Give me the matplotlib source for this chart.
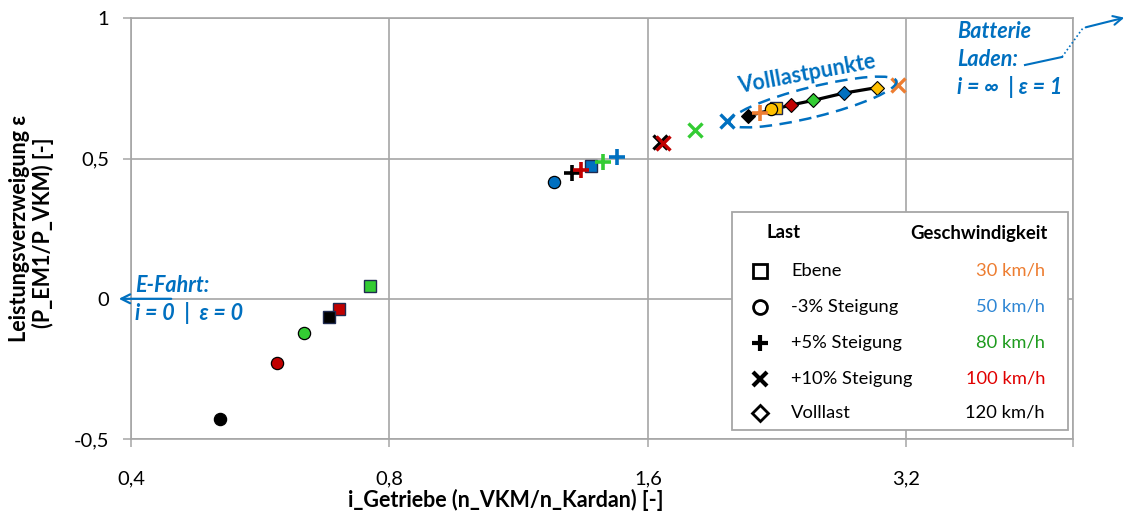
import numpy as np
import matplotlib.pyplot as plt
from matplotlib.lines import Line2D
from matplotlib.patches import Ellipse, Rectangle
from matplotlib.transforms import IdentityTransform
from matplotlib.ticker import NullLocator

plt.rcParams['font.family'] = ['Lato', 'DejaVu Sans']

W, H = 1129, 513

# Geschwindigkeiten (Reihenfolge der Punkte in jeder Reihe)
geschwindigkeit = ['30 km/h', '50 km/h', '80 km/h', '100 km/h', '120 km/h']
lastfaelle = ['Ebene', '-3% Steigung', '+5% Steigung', '+10% Steigung', 'Volllast']

# Werte: i_Getriebe und Leistungsverzweigung
i_ebene = [2.254, 1.375, 0.760, 0.699, 0.680]
eps_ebene = [0.680, 0.474, 0.046, -0.037, -0.066]
i_minus3 = [2.228, 1.243, 0.637, 0.591, 0.508]
eps_minus3 = [0.675, 0.417, -0.123, -0.228, -0.429]
i_plus5 = [2.159, 1.474, 1.419, 1.339, 1.307]
eps_plus5 = [0.662, 0.507, 0.488, 0.460, 0.450]
i_plus10 = [3.128, 1.978, 1.814, 1.666, 1.652]
eps_plus10 = [0.763, 0.633, 0.600, 0.556, 0.560]
i_volllast = [2.957, 2.704, 2.490, 2.350, 2.092]
eps_volllast = [0.753, 0.733, 0.707, 0.691, 0.652]

# Farben je Geschwindigkeit
farben_flaeche = ['#FFC000', '#0070C0', '#33CC33', '#C00000', 'black']
farben_linie = ['#ED7D31', '#0070C0', '#33CC33', '#C00000', 'black']
farben_text = ['#ED7D31', '#2E86D4', '#1E9B1E', '#E00000', 'black']

x_ticks = [0.4, 0.8, 1.6, 3.2, 5.0]
x_ticklabels = ['0,4', '0,8', '1,6', '3,2', '']
y_ticks = [-0.5, 0, 0.5, 1]
y_ticklabels = ['-0,5', '0', '0,5', '1']

blau = '#0070C0'
grau = '#a6a6a6'


def fp(x, y):
    # Pixel (oben links) -> Figurenbruchteil
    return (x / W, 1 - y / H)


fig = plt.figure(figsize=(W / 100, H / 100), dpi=100)
ax = fig.add_axes([131 / W, 1 - 439 / H, (1072.7 - 131) / W, (439 - 18.3) / H])

ax.set_xscale('log', base=2)
ax.set_xlim(0.4, 5.0)
ax.set_ylim(-0.5, 1)
ax.set_xticks(x_ticks)
ax.set_xticklabels(x_ticklabels)
ax.xaxis.set_minor_locator(NullLocator())
ax.set_yticks(y_ticks)
ax.set_yticklabels(y_ticklabels)
ax.tick_params(axis='both', direction='out', length=5.8, width=1.1, color=grau, labelsize=14.5)
ax.tick_params(axis='x', pad=17)
ax.tick_params(axis='y', pad=10)
ax.grid(True, color=grau, lw=1.2, zorder=0)
ax.set_axisbelow(True)
for s in ax.spines.values():
    s.set_color(grau)
    s.set_linewidth(1.2)

# Volllastlinie
ax.plot(i_volllast, eps_volllast, color='black', lw=2.3, zorder=3)
for k in range(5):
    ax.plot(i_volllast[k], eps_volllast[k], marker='D', ms=6.8, mfc=farben_flaeche[k],
            mec='black', mew=0.8, ls='none', zorder=4)

for k in range(5):
    ax.plot(i_ebene[k], eps_ebene[k], marker='s', ms=8.2, mfc=farben_flaeche[k],
            mec='#1F2A50', mew=1.0, ls='none', zorder=5)
for k in range(5):
    ax.plot(i_minus3[k], eps_minus3[k], marker='o', ms=8.8, mfc=farben_flaeche[k],
            mec='black', mew=0.9, ls='none', zorder=6)
for k in reversed(range(5)):
    ax.plot(i_plus5[k], eps_plus5[k], marker='+', ms=11.5, mec=farben_linie[k],
            mew=2.6, ls='none', zorder=7)
for k in reversed(range(5)):
    ax.plot(i_plus10[k], eps_plus10[k], marker='x', ms=10.5, mec=farben_linie[k],
            mew=2.4, ls='none', zorder=8)

# Achsentitel
fig.text(*fp(506, 500), 'i_Getriebe (n_VKM/n_Kardan) [-]', fontsize=15.5,
         fontweight='bold', ha='center', va='center')
fig.text(*fp(20, 228), 'Leistungsverzweigung ε', fontsize=15.5, fontweight='bold',
         rotation=90, ha='center', va='center')
fig.text(*fp(43, 233), '(P_EM1/P_VKM) [-]', fontsize=15.5, fontweight='bold',
         rotation=90, ha='center', va='center')

# Ellipse um die Volllastpunkte
ell = Ellipse((813, H - 102), 172, 30, angle=14, transform=IdentityTransform(),
              fill=False, ec=blau, lw=1.8, ls=(0, (5, 3)))
fig.add_artist(ell)
fig.text(*fp(807, 74), 'Volllastpunkte', fontsize=15.5, fontweight='bold', color=blau,
         rotation=10.5, ha='center', va='center', rotation_mode='anchor')

# E-Fahrt
fig.text(*fp(135, 286), 'E-Fahrt:', fontsize=15.5, fontweight='bold', style='italic',
         color=blau, ha='left', va='center')
fig.text(*fp(135, 313), 'i = 0  |  ε = 0', fontsize=15.5, fontweight='bold',
         style='italic', color=blau, ha='left', va='center')
ax.annotate('', xy=fp(116, 298.8), xytext=fp(174, 298.8), xycoords='figure fraction',
            textcoords='figure fraction',
            arrowprops=dict(arrowstyle='->', color=blau, lw=1.6, mutation_scale=16))

# Batterie Laden
for txt, yy in [('Batterie', 32), ('Laden:', 60), ('i = ∞  | ε = 1', 87)]:
    fig.text(*fp(957, yy), txt, fontsize=15.5, fontweight='bold', style='italic',
             color=blau, ha='left', va='center')
fig.add_artist(Line2D([1025 / W, 1062 / W], [1 - 65 / H, 1 - 57 / H],
                      transform=fig.transFigure, color=blau, lw=1.5))
fig.add_artist(Line2D([1062 / W, 1083 / W], [1 - 57 / H, 1 - 28 / H],
                      transform=fig.transFigure, color=blau, lw=1.2, ls=(0, (1, 1.5))))
ax.annotate('', xy=fp(1127, 17), xytext=fp(1083, 28), xycoords='figure fraction',
            textcoords='figure fraction',
            arrowprops=dict(arrowstyle='->', color=blau, lw=1.5, mutation_scale=16))

# Legende als Textfeld
box = Rectangle(fp(732, 430), (1068 - 732) / W, (430 - 212) / H, transform=fig.transFigure,
                fc='white', ec=grau, lw=1.3, zorder=10)
fig.add_artist(box)
fig.text(*fp(767, 233), 'Last', fontsize=13.3, fontweight='bold', ha='left', va='center',
         zorder=11)
fig.text(*fp(1048, 233), 'Geschwindigkeit', fontsize=13.3, fontweight='bold', ha='right',
         va='center', zorder=11)
leg_marker = ['s', 'o', '+', 'x', 'D']
leg_ms = [10, 10, 11.5, 10, 8]
leg_mew = [2.0, 2.0, 3.0, 3.0, 2.0]
leg_y = [271, 307, 343, 379, 413]
for k in range(5):
    mk = Line2D([760 / W], [1 - leg_y[k] / H], transform=fig.transFigure,
                marker=leg_marker[k], ms=leg_ms[k], mfc='none', mec='black',
                mew=leg_mew[k], ls='none', zorder=11)
    fig.add_artist(mk)
    fig.text(*fp(791, leg_y[k]), lastfaelle[k], fontsize=13.2, ha='left', va='center',
             zorder=11)
    fig.text(*fp(1045, leg_y[k]), geschwindigkeit[k], fontsize=13.2, ha='right',
             va='center', color=farben_text[k], zorder=11)

fig.savefig('out.png', dpi=100)
